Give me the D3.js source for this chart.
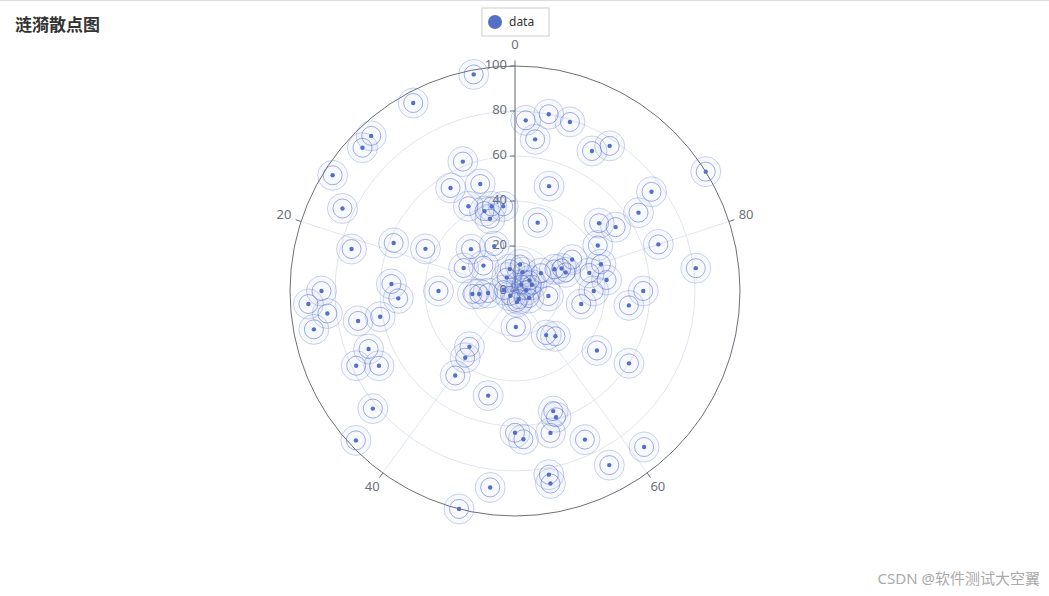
<!DOCTYPE html><html><head><meta charset="utf-8"><script src="https://cdn.jsdelivr.net/npm/d3@7"></script>
<style>body{margin:0;background:#fff;font-family:"Noto Sans","Noto Sans CJK SC",sans-serif}</style></head><body><svg id="c" width="1049" height="596"></svg><script>
const title="涟漪散点图";
const seriesName="data";
const angleTicks=[0,20,40,60,80];
const radiusTicks=[0,20,40,60,80,100];
// [radius, angle]
const radii=[98,95,94,93,96,85,75,58,44,54,62,50,43,38,34,39,38,22,27,25,18,34,19,16,12,55,52,86,92,84,91,71,61,70,78,69,82,97,100,88,48,46,37,32,16,63,66,65,56,59,83,87,88,90,73,60,45,24,27,15,30,35,51,57,41,40,42,48,53,67,81,100,75,65,77,71,79,80,76,68,49,32,29,23,20,24,14,8,12,10,7,5,3,4,5,8,4,7,9,5,34];
const angles=[3,7.9,11.9,13,16,17.9,21,19,18,8.9,6.1,5,8,5.8,5.3,4.3,2.2,6.9,12.9,18.3,14.2,25,26.1,26.3,26.2,24.1,26,25,26,26.9,28,28,28,31,32,33,36,37,46,48,46,40.2,39.8,39.1,50.4,50,50.9,53.9,54.9,55,52.9,52.9,57.9,61,57,66,65,59.8,61.6,72.6,71.9,75,73,75,76.9,79.8,83,85.8,84,80,77,83.9,85,84,90.8,92,95,97,99,97.9,95,94.9,83,82.2,83,80.6,84.6,85,97,3.7,8.8,23.6,37.5,56.7,76.3,80.7,87.5,67.6,94,52.8,78.8];
const svg=d3.select("#c"),cx=515,cy=291,R=225,col="#5470c6";
const r=d3.scaleLinear().domain([0,100]).range([0,R]);
const a=d3.scaleLinear().domain([0,100]).range([0,-2*Math.PI]);
const pt=(rv,av)=>[cx+r(rv)*Math.sin(a(av)),cy-r(rv)*Math.cos(a(av))];
const g=svg.append("g");
radiusTicks.slice(1,-1).forEach(t=>g.append("circle").attr("cx",cx).attr("cy",cy).attr("r",r(t)).attr("fill","none").attr("stroke","#e0e6f1"));
angleTicks.forEach(t=>{const p=pt(100,t);g.append("line").attr("x1",cx).attr("y1",cy).attr("x2",p[0]).attr("y2",p[1]).attr("stroke","#e0e6f1");});
g.append("circle").attr("cx",cx).attr("cy",cy).attr("r",R).attr("fill","none").attr("stroke","#6e7079");
angleTicks.forEach(t=>{const p1=pt(100,t),p2=pt(102.5,t),pl=pt(t==0?109:108,t);
g.append("line").attr("x1",p1[0]).attr("y1",p1[1]).attr("x2",p2[0]).attr("y2",p2[1]).attr("stroke","#6e7079");
g.append("text").attr("x",pl[0]).attr("y",pl[1]).attr("text-anchor","middle").attr("dominant-baseline","middle").attr("font-size",13).attr("fill","#6e7079").text(t);});
// radius axis
g.append("line").attr("x1",cx).attr("y1",cy).attr("x2",cx).attr("y2",cy-R).attr("stroke","#6e7079");
radiusTicks.forEach(t=>{g.append("line").attr("x1",cx-5).attr("x2",cx).attr("y1",cy-r(t)).attr("y2",cy-r(t)).attr("stroke","#6e7079");
g.append("text").attr("x",cx-8).attr("y",cy-r(t)).attr("text-anchor","end").attr("dominant-baseline","middle").attr("font-size",13).attr("fill","#6e7079").text(t);});
const pts=radii.map((v,i)=>pt(v,angles[i]));
const m=svg.append("g");
pts.forEach(p=>{
m.append("circle").attr("cx",p[0]).attr("cy",p[1]).attr("r",15).attr("fill",col).attr("fill-opacity",0.04).attr("stroke",col).attr("stroke-opacity",0.3);
m.append("circle").attr("cx",p[0]).attr("cy",p[1]).attr("r",9.5).attr("fill","none").attr("stroke",col).attr("stroke-opacity",0.55);
m.append("circle").attr("cx",p[0]).attr("cy",p[1]).attr("r",2.2).attr("fill",col);});
svg.append("text").attr("x",15).attr("y",31).attr("font-size",17).attr("font-weight","bold").attr("fill","#333").text(title);
svg.append("rect").attr("x",482).attr("y",8).attr("width",67).attr("height",28).attr("fill","#fff").attr("stroke","#ccc");
svg.append("circle").attr("cx",495).attr("cy",22).attr("r",7).attr("fill",col);
svg.append("text").attr("x",509).attr("y",26).attr("font-size",12).attr("fill","#333").text(seriesName);
svg.append("line").attr("x1",0).attr("x2",1049).attr("y1",0.5).attr("y2",0.5).attr("stroke","#ddd");
svg.append("text").attr("x",1040).attr("y",584).attr("text-anchor","end").attr("font-size",15).attr("fill","#aaa").text("CSDN @软件测试大空翼");
</script></body></html>
